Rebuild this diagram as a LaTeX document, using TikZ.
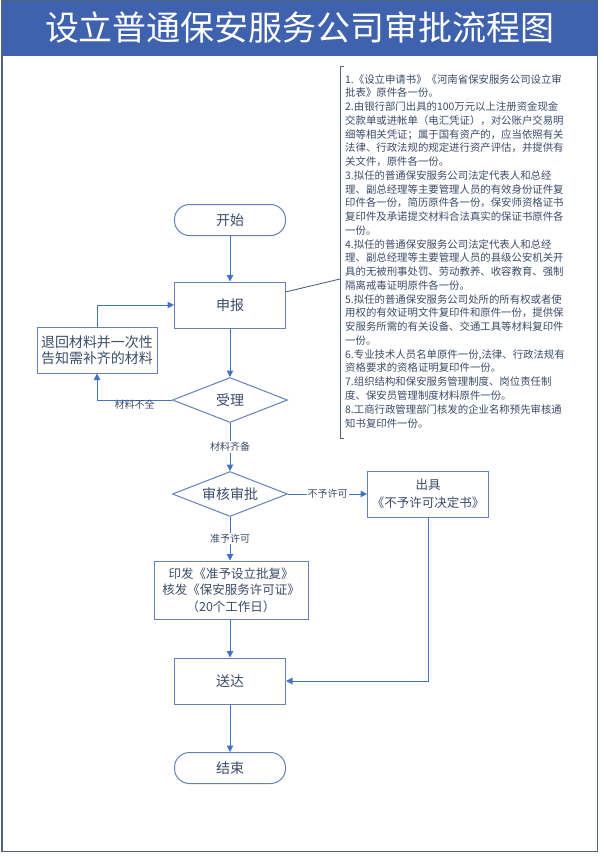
\documentclass[tikz,border=0pt]{standalone}
\usepackage{fontspec}
\setmainfont{Noto Sans CJK SC}
\usetikzlibrary{arrows.meta,shapes.geometric,calc}
\definecolor{hdr}{RGB}{63,98,174}
\definecolor{ln}{RGB}{68,114,196}
\definecolor{bx}{RGB}{100,128,182}
\definecolor{tx}{RGB}{60,76,105}
\definecolor{frm}{RGB}{80,100,130}
\definecolor{brk}{RGB}{85,100,125}
\begin{document}
\begin{tikzpicture}[x=1pt,y=-1pt,
  box/.style={draw=bx, line width=1pt, fill=white, text=tx, minimum width=111pt, minimum height=46pt, inner sep=0pt, align=center, font=\fontsize{14}{16.5}\selectfont},
  term/.style={box, rounded corners=15pt, minimum height=31pt},
  dec/.style={diamond, shape aspect=2.55, draw=bx, line width=1pt, fill=white, text=tx, minimum width=115pt, minimum height=45pt, inner sep=0pt, font=\fontsize{14}{16.5}\selectfont},
  arr/.style={draw=ln, line width=1pt, -{Triangle[width=6.5pt,length=6.5pt]}},
  lbl/.style={fill=white, text=tx, font=\fontsize{10}{12}\selectfont, inner sep=1pt},
  brkline/.style={draw=brk, line width=0.9pt}]
\useasboundingbox (0,0) rectangle (603,857);
\fill[white] (0,0) rectangle (603,857);
\fill[hdr] (2,0) rectangle (598,56);
\draw[frm, line width=1.2pt] (2,0) rectangle (597.5,851.5);
\node[text=white, font=\fontsize{34}{36}\selectfont, inner sep=0pt] (title) at (300,28) {设立普通保安服务公司审批流程图};

\node[term] (start) at (230,220) {开始};
\node[box] (sb) at (230,305) {申报};
\node[box, minimum width=120pt] (back) at (97,350) {退回材料并一次性\\告知需补齐的材料};
\node[dec] (sl) at (230,400) {受理};
\node[dec] (sh) at (230,494) {审核审批};
\node[box, minimum width=121pt, font=\fontsize{12.5}{18}\selectfont] (cj) at (428,494) {出具\\《不予许可决定书》};
\node[box, minimum width=154pt, minimum height=58pt, font=\fontsize{12.5}{16.5}\selectfont] (yf) at (231,590) {印发《准予设立批复》\\核发《保安服务许可证》\\（20个工作日）};
\node[box] (sd) at (230,681) {送达};
\node[term] (end) at (230,768) {结束};

\draw[arr] (start) -- (sb);
\draw[arr] (sb) -- (sl);
\draw[arr] (back.north) |- (sb.west);
\draw[arr] (sl.west) -| node[pos=0.25, text=tx, font=\fontsize{10}{12}\selectfont, inner sep=0pt, yshift=-5pt] {材料不全} (back.south);
\draw[arr] (sl) -- node[lbl] {材料齐备} (sh);
\draw[arr] (sh.east) -- node[lbl] {不予许可} (cj.west);
\draw[arr] (sh.south) -- node[lbl] {准予许可} (sh.south |- yf.north);
\draw[arr] (yf.south -| sd.north) -- (sd.north);
\draw[arr] (cj.south) |- (sd.east);
\draw[arr] (sd) -- (end);

\node[anchor=north west, inner sep=0pt, text=tx, align=left, font=\fontsize{10.4}{13.76}\selectfont] (txt) at (345,74) {%
1.《设立申请书》《河南省保安服务公司设立审\\
批表》原件各一份。\\
2.由银行部门出具的100万元以上注册资金现金\\
交款单或进帐单（电汇凭证），对公账户交易明\\
细等相关凭证；属于国有资产的，应当依照有关\\
法律、行政法规的规定进行资产评估，并提供有\\
关文件，原件各一份。\\
3.拟任的普通保安服务公司法定代表人和总经\\
理、副总经理等主要管理人员的有效身份证件复\\
印件各一份，简历原件各一份，保安师资格证书\\
复印件及承诺提交材料合法真实的保证书原件各\\
一份。\\
4.拟任的普通保安服务公司法定代表人和总经\\
理、副总经理等主要管理人员的县级公安机关开\\
具的无被刑事处罚、劳动教养、收容教育、强制\\
隔离戒毒证明原件各一份。\\
5.拟任的普通保安服务公司处所的所有权或者使\\
用权的有效证明文件复印件和原件一份，提供保\\
安服务所需的有关设备、交通工具等材料复印件\\
一份。\\
6.专业技术人员名单原件一份,法律、行政法规有\\
资格要求的资格证明复印件一份。\\
7.组织结构和保安服务管理制度、岗位责任制\\
度、保安员管理制度材料原件一份。\\
8.工商行政管理部门核发的企业名称预先审核通\\
知书复印件一份。};

\draw[brkline] (344,66) -- (340,66) -- (340,438) -- (344,438);
\coordinate (bk) at (340,279);
\draw[brkline] ($(sb.north east)!0.22!(sb.south east)$) -- (bk);
\end{tikzpicture}
\end{document}
